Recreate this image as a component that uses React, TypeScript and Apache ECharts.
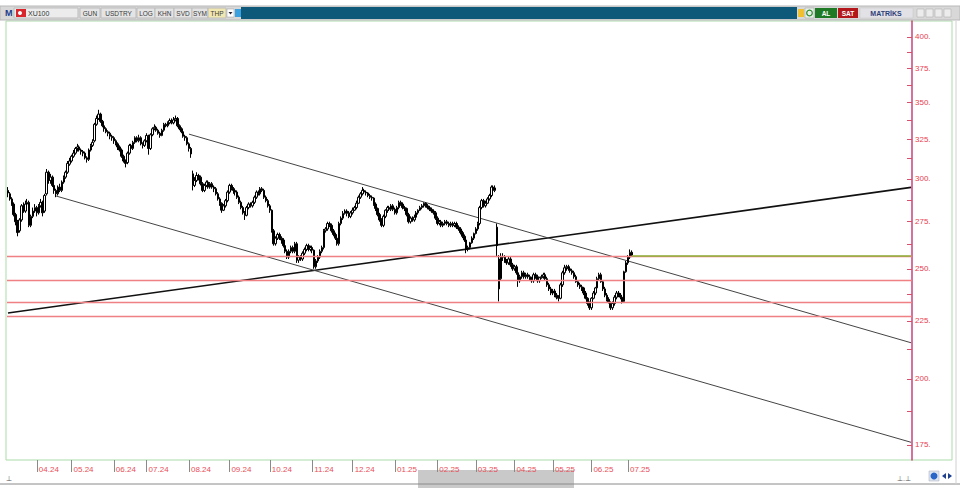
import React, { useEffect, useRef } from "react";
import * as echarts from "echarts";

// ---- data ----
const START_DATE = "2024-03-11";
const HOLIDAYS = [
  "2024-04-10", "2024-04-11", "2024-04-12", "2024-04-23", "2024-05-01",
  "2024-06-17", "2024-06-18", "2024-06-19", "2024-07-15", "2024-08-30",
  "2024-10-29", "2025-01-01", "2025-03-31", "2025-04-01", "2025-04-23",
  "2025-05-01", "2025-05-19", "2025-06-06", "2025-06-09",
];
const TOTAL_SLOTS = 470; // trading days incl. empty future space

// [open, close, low, high]
const ohlc: number[][] = [
  [293, 291.5, 289, 295], [291, 288, 287, 292], [288, 285, 284, 289], [285, 279, 278, 286], [279, 275, 273, 280],
  [275, 269, 267, 276], [270, 276, 269, 277], [276, 284, 275, 285], [284, 281, 280, 286], [281, 285, 280, 287],
  [285, 286, 283, 288], [286, 273, 272, 287], [273, 278, 272, 279], [278, 281, 277, 283], [281, 283, 280, 285],
  [283, 280, 278, 284], [280, 284, 279, 285], [284, 286, 283, 288], [286, 280, 278, 287], [281, 290, 280, 291],
  [291, 304, 290, 306], [304, 299, 297, 305], [299, 301, 297, 303], [301, 296, 295, 302], [296, 293, 291, 297],
  [293, 291, 289, 294], [291, 295, 290, 296], [295, 293, 292, 297], [293, 298, 292, 299], [298, 301, 297, 302],
  [301, 304, 300, 305], [304, 309.5, 303, 311], [309, 311, 308, 313], [311, 314, 310, 315], [314, 316, 313, 318],
  [316, 319, 315, 320], [319, 320, 317, 322], [320, 318, 317, 321], [318, 317, 315, 319], [317, 316, 314, 318],
  [316, 313, 312, 317], [313, 312, 310, 314], [312, 318, 311, 319], [318, 321, 317, 322], [321, 323, 320, 325],
  [324, 335, 323, 336], [335, 339, 334, 341], [339, 342, 338, 345], [342, 337, 336, 343], [337, 334, 333, 338],
  [334, 332, 330, 335], [332, 330, 329, 333], [330, 329, 327, 331], [329, 327, 325, 330], [327, 326, 324, 328],
  [326, 324, 322, 327], [324, 322, 321, 325], [322, 320, 318, 323], [320, 318, 317, 321], [318, 314, 313, 319],
  [314, 311, 310, 315], [311, 309.5, 307, 312], [310, 316, 309, 317], [316, 321, 315, 322], [321, 319, 318, 322],
  [319, 323, 318, 324], [323, 326, 322, 327], [326, 324, 323, 327], [324, 326, 323, 328], [326, 322, 321, 327],
  [322, 321, 319, 323], [321, 324, 320, 325], [324, 327.5, 323, 329], [327, 319, 315, 328], [319, 328, 318, 329],
  [328, 332, 327, 333], [332, 333, 331, 335], [333, 331, 330, 334], [331, 329, 328, 332], [329, 327.5, 326, 330],
  [327.5, 331, 327, 332], [331, 335, 330, 336], [335, 334, 333, 336], [334, 336, 333, 337], [336, 337.6, 335, 339],
  [337.6, 336, 335, 339], [336, 338, 335, 340], [338, 339, 337, 341], [339, 334, 333, 340], [334, 332, 331, 335],
  [332, 330, 329, 333], [330, 327, 326, 331], [327, 326, 324, 328], [326, 322, 321, 327], [322, 319, 317, 323],
  [319, 315.5, 313, 320], [303, 296, 293, 305], [296, 299, 295, 301], [299, 302, 298, 304], [302, 301, 299, 303],
  [301, 297, 296, 302], [297, 293, 292, 298], [293, 296, 292, 297], [296, 298, 295, 299], [298, 295, 294, 299],
  [295, 297, 294, 298], [297, 295, 294, 298], [295, 294, 292, 296], [294, 291, 290, 295], [291, 288, 287, 292],
  [288, 285.5, 284, 289], [285.5, 281.5, 280, 286], [281.5, 284, 281, 285], [284, 287, 283, 288], [287, 292, 286, 293],
  [292, 296, 291, 297], [296, 294, 293, 297], [294, 293, 291, 295], [293, 292, 290, 294], [292, 289, 288, 293],
  [289, 286, 285, 290], [286, 283, 282, 287], [283, 280, 279, 284], [280, 278.6, 276, 281], [278.6, 283, 278, 284],
  [283, 285, 282, 286], [285, 284, 283, 286], [284, 286, 283, 287], [286, 289, 285, 290], [289, 292, 288, 293],
  [292, 291, 290, 293], [291, 294, 290, 295], [294, 293, 292, 295], [293, 289, 288, 294], [289, 287, 286, 290],
  [287, 284, 283, 288], [284, 281.5, 280, 285], [281.5, 270, 269, 282], [270, 263, 262, 271], [263, 266, 262, 267],
  [266, 268, 265, 269], [268, 266, 265, 269], [266, 265, 263, 267], [265, 262, 261, 266], [262, 259, 258, 263],
  [259, 256, 255, 260], [256, 259, 255, 260], [259, 261, 258, 262], [261, 259, 258, 262], [259, 263, 258, 264],
  [263, 254.4, 253, 264], [254.4, 256, 253, 257], [256, 255, 254, 257], [255, 258, 254, 259], [258, 260, 257, 261],
  [260, 262, 259, 263], [262, 260, 259, 263], [260, 261, 259, 262], [261, 259.6, 258, 262], [259.6, 251, 250, 260],
  [251, 254, 250, 255], [254, 256, 253, 257], [256, 259, 255, 260], [259, 261, 258, 262], [261, 270, 260, 271],
  [270, 271, 269, 272], [271, 274, 270, 275], [274, 273, 272, 275], [273, 270, 269, 274], [270, 268, 267, 271],
  [268, 266, 265, 269], [266, 263, 262, 267], [263, 274, 262, 275], [274, 277, 273, 278], [277, 279.7, 276, 281],
  [279.7, 281, 279, 282], [281, 279.7, 278, 282], [279.7, 278, 277, 281], [278, 280, 277, 281], [280, 281.5, 279, 283],
  [281.5, 283, 281, 284], [283, 285.5, 282, 287], [285.5, 289, 285, 290], [289, 291, 288, 292], [291, 293, 290, 295],
  [293, 292, 291, 294], [292, 291.5, 290, 293], [291.5, 290, 289, 292], [290, 289, 288, 291], [289, 288.5, 287, 290],
  [288.5, 285, 284, 289], [285, 282.5, 281, 286], [282.5, 279, 278, 283], [279, 276, 275, 280], [276, 273, 272, 277],
  [273, 278, 272, 279], [278, 281.5, 277, 282], [281.5, 283, 280, 284], [283, 282, 281, 284], [282, 284, 281, 285],
  [284, 282, 281, 285], [282, 280, 279, 283], [280, 283, 279, 284], [283, 286, 282, 287], [286, 285, 284, 287],
  [285, 283, 282, 286], [283, 282.5, 281, 284], [282.5, 279, 278, 283], [279, 275, 274, 280], [275, 277, 274, 278],
  [277, 276, 275, 278], [276, 277.5, 275, 279], [277.5, 280, 277, 281], [280, 281.5, 279, 282], [281.5, 283, 281, 284],
  [283, 284, 282, 285], [284, 285.5, 283, 286], [285.5, 284, 283, 286], [284, 283, 282, 285], [283, 282, 281, 284],
  [282, 281, 280, 283], [281, 280, 279, 282], [280, 277, 276, 281], [277, 274, 273, 278], [274, 275, 273, 276],
  [275, 273, 272, 276], [273, 274, 272, 275], [274, 275, 273, 276], [275, 274, 273, 276], [274, 273, 272, 275],
  [273, 274, 272, 275], [274, 273, 272, 275], [273, 274, 272, 275], [274, 272, 271, 275], [272, 271, 270, 273],
  [271, 269, 268, 272], [269, 267, 266, 270], [267, 265, 264, 268], [265, 260, 258, 266], [260, 261, 259, 262],
  [261, 263.5, 260, 264], [263.5, 266, 263, 267], [266, 268.5, 265, 269], [268.5, 271, 268, 272], [271, 274, 270, 275],
  [274, 283, 273, 284], [283, 287, 282, 288], [287, 284, 283, 288], [284, 285.5, 283, 287], [285.5, 288, 285, 289],
  [288, 290, 287, 291], [290, 295, 289, 296], [295, 293, 292, 296], [293, 294.5, 292, 296], [272, 262, 256, 274],
  [255, 240, 234, 257], [245, 256, 244, 258], [256, 256, 254, 258], [256, 254, 253, 257], [254, 253, 252, 255],
  [253, 255, 252, 256], [255, 252, 251, 256], [252, 250, 249, 253], [250, 251, 249, 252], [251, 248, 247, 252],
  [248, 244, 241, 249], [244, 246, 243, 247], [246, 248, 245, 249], [248, 246, 245, 249], [246, 247, 245, 248],
  [247, 246, 245, 248], [246, 245.5, 244, 247], [245.5, 244, 243, 246], [244, 247, 243, 248], [247, 246, 245, 248],
  [246, 244, 243, 247], [244, 245.5, 243, 246], [245.5, 246, 245, 247], [246, 247, 245, 248], [247, 245, 244, 248],
  [245, 242, 241, 246], [242, 240, 239, 243], [240, 238, 237, 241], [238, 239, 237, 240], [239, 237, 236, 240],
  [237, 236, 235, 238], [236, 235.5, 234, 237], [235.5, 242, 235, 243], [242, 248, 241, 249], [248, 250.5, 247, 252],
  [250.5, 251, 249, 252], [251, 250, 249, 252], [250, 249, 248, 251], [249, 248, 247, 250], [248, 246, 245, 249],
  [246, 243.5, 243, 247], [243.5, 242, 241, 244], [242, 241, 240, 243], [241, 240.5, 239, 242], [240.5, 238, 237, 241],
  [238, 235.5, 235, 239], [235.5, 233, 232, 236], [233, 231, 230, 234], [231, 235.5, 230, 236], [235.5, 238, 235, 239],
  [238, 240.5, 237, 241], [240.5, 245, 240, 246], [245, 247, 244, 248], [247, 243.5, 243, 248], [243.5, 240, 239, 244],
  [240, 237, 236, 241], [237, 235, 234, 238], [235, 233.5, 233, 236], [233.5, 231, 230, 234], [231, 233, 230, 234],
  [233, 236, 232, 237], [236, 238, 235, 239], [238, 237, 236, 239], [237, 236, 235, 238], [236, 233.5, 233, 237],
  [234, 248.5, 233.5, 249], [248.5, 253, 248, 254], [253, 256, 252, 257], [256, 258.5, 255, 260], [258.5, 257, 256, 259.5],
];

const yTickLabels = [175, 200, 225, 250, 275, 300, 325, 350, 375, 400];
const yMinorTicks = [187.5, 212.5, 237.5, 262.5, 287.5, 312.5, 337.5, 362.5, 387.5];
const redLevels = [256.5, 244.5, 233.5, 227];
const greenLevel = [[324, 256.5], [469, 256.5]];
const trendBold = [[0, 228.6], [469, 294.8]];
const channelUpper = [[94, 328.4], [469, 215.2]];
const channelLower = [[25, 289.7], [469, 175.9]];

function buildDates(n: number): string[] {
  const out: string[] = [];
  const d = new Date(START_DATE + "T00:00:00Z");
  while (out.length < n) {
    const dow = d.getUTCDay();
    const iso = d.toISOString().slice(0, 10);
    if (dow !== 0 && dow !== 6 && !HOLIDAYS.includes(iso)) out.push(iso);
    d.setUTCDate(d.getUTCDate() + 1);
  }
  return out;
}

const dates = buildDates(TOTAL_SLOTS);
const isMonthStart = (i: number) =>
  i > 0 && i < ohlc.length && dates[i].slice(0, 7) !== dates[i - 1].slice(0, 7);
const fmtMonth = (v: string) => `${v.slice(5, 7)}.${v.slice(2, 4)}`;

const FONT = "Liberation Sans";

function toolbarGraphics(): any[] {
  const els: any[] = [];
  els.push({ type: "rect", shape: { x: 0, y: 6, width: 960, height: 14 }, style: { fill: "#d8d8d8", stroke: "#b8b8b8", lineWidth: 1 } });
  els.push({ type: "text", x: 5, y: 13, style: { text: "M", fill: "#1b3c8c", font: `bold 9px ${FONT}`, verticalAlign: "middle" } });
  els.push({ type: "rect", shape: { x: 14, y: 8, width: 64, height: 10 }, style: { fill: "#ececec", stroke: "#bdbdbd", lineWidth: 1 } });
  els.push({ type: "rect", shape: { x: 16, y: 9, width: 10, height: 8 }, style: { fill: "#d9262c" } });
  els.push({ type: "circle", shape: { cx: 20, cy: 13, r: 2 }, style: { fill: "#ffffff" } });
  els.push({ type: "text", x: 28, y: 13, style: { text: "XU100", fill: "#333", font: `7px ${FONT}`, verticalAlign: "middle" } });
  const btns = [
    { t: "GUN", x: 80, w: 20 }, { t: "USDTRY", x: 101, w: 35 }, { t: "LOG", x: 137, w: 18 },
    { t: "KHN", x: 155, w: 19 }, { t: "SVD", x: 174, w: 18 }, { t: "SYM", x: 192, w: 16 },
    { t: "THP", x: 208, w: 18, bg: "#f1e7b0" },
  ];
  btns.forEach((b) => {
    els.push({ type: "rect", shape: { x: b.x, y: 8, width: b.w, height: 10 }, style: { fill: b.bg || "#e4e4e4", stroke: "#bcbcbc", lineWidth: 1 } });
    els.push({ type: "text", x: b.x + b.w / 2, y: 13, style: { text: b.t, fill: "#3a3a3a", font: `6.5px ${FONT}`, align: "center", verticalAlign: "middle" } });
  });
  els.push({ type: "rect", shape: { x: 227, y: 9, width: 7, height: 8 }, style: { fill: "#fff", stroke: "#999", lineWidth: 0.5 } });
  els.push({ type: "polygon", shape: { points: [[228.5, 12], [232.5, 12], [230.5, 14.5]] }, style: { fill: "#223" } });
  els.push({ type: "rect", shape: { x: 235, y: 9, width: 6, height: 8 }, style: { fill: "#3aa0e0" } });
  els.push({ type: "rect", shape: { x: 241, y: 7, width: 556, height: 12 }, style: { fill: "#0e5879" } });
  els.push({ type: "rect", shape: { x: 798, y: 9, width: 6, height: 8 }, style: { fill: "#f0c030" } });
  els.push({ type: "rect", shape: { x: 805, y: 8, width: 9, height: 10 }, style: { fill: "#e8f0e8", stroke: "#999", lineWidth: 0.5 } });
  els.push({ type: "circle", shape: { cx: 809.5, cy: 13, r: 2.8 }, style: { fill: "none", stroke: "#2a8a2a", lineWidth: 1.2 } });
  els.push({ type: "rect", shape: { x: 815, y: 8, width: 22, height: 10 }, style: { fill: "#1f7a26" } });
  els.push({ type: "text", x: 826, y: 13, style: { text: "AL", fill: "#fff", font: `bold 6.5px ${FONT}`, align: "center", verticalAlign: "middle" } });
  els.push({ type: "rect", shape: { x: 838, y: 8, width: 20, height: 10 }, style: { fill: "#b3161b" } });
  els.push({ type: "text", x: 848, y: 13, style: { text: "SAT", fill: "#fff", font: `bold 6.5px ${FONT}`, align: "center", verticalAlign: "middle" } });
  els.push({ type: "rect", shape: { x: 860, y: 8, width: 53, height: 10 }, style: { fill: "#e2e2e6", stroke: "#c4c4c4", lineWidth: 0.5 } });
  els.push({ type: "text", x: 886, y: 13, style: { text: "MATRİKS", fill: "#2d3e78", font: `bold 7px ${FONT}`, align: "center", verticalAlign: "middle" } });
  [917, 926, 935, 944].forEach((x) => {
    els.push({ type: "rect", shape: { x, y: 9, width: 7, height: 8 }, style: { fill: "#ececec", stroke: "#aaa", lineWidth: 0.5 } });
  });
  return els;
}

function frameGraphics(): any[] {
  return [
    { type: "rect", z: -10, shape: { x: 418, y: 470, width: 156, height: 18 }, style: { fill: "#c9c9c9" } },
    { type: "line", shape: { x1: 0, y1: 484, x2: 960, y2: 484 }, style: { stroke: "#8a8a8a", lineWidth: 1 } },
    { type: "rect", shape: { x: 6, y: 21, width: 946, height: 439 }, style: { fill: "none", stroke: "#a9dca9", lineWidth: 1 } },
    { type: "line", shape: { x1: 956, y1: 21, x2: 956, y2: 484 }, style: { stroke: "#d0d0d0", lineWidth: 1 } },
    { type: "text", x: 6, y: 478, style: { text: "⊥", fill: "#555", font: `7px ${FONT}`, verticalAlign: "middle" } },
    { type: "text", x: 897, y: 478, style: { text: "⊥.⊥", fill: "#555", font: `7px ${FONT}`, verticalAlign: "middle" } },
    { type: "rect", shape: { x: 929, y: 471, width: 10, height: 10 }, style: { fill: "#dde6f0", stroke: "#aab", lineWidth: 0.5 } },
    { type: "circle", shape: { cx: 934, cy: 476, r: 3.5 }, style: { fill: "#2a66c8" } },
    { type: "polygon", shape: { points: [[946, 473], [946, 479], [942, 476]] }, style: { fill: "#1f3f8f" } },
    { type: "polygon", shape: { points: [[948, 473], [948, 479], [952, 476]] }, style: { fill: "#1f3f8f" } },
  ];
}

export default function App() {
  const ref = useRef<HTMLDivElement>(null);
  useEffect(() => {
    if (!ref.current) return;
    const chart = echarts.init(ref.current, null, { renderer: "svg" });
    const lineSeries = (data: number[][], color: string, width: number, z = 3) => ({
      type: "line",
      data,
      symbol: "none",
      silent: true,
      lineStyle: { color, width },
      z,
    });
    chart.setOption({
      animation: false,
      backgroundColor: "#ffffff",
      grid: { left: 7, right: 48, top: 21, bottom: 28, containLabel: false },
      xAxis: {
        type: "category",
        data: dates,
        boundaryGap: true,
        axisLine: { show: false },
        axisTick: {
          show: true,
          alignWithLabel: true,
          interval: (i: number) => isMonthStart(i),
          length: 12,
          lineStyle: { color: "#8a8a8a", width: 1 },
        },
        axisLabel: {
          interval: (i: number) => isMonthStart(i),
          formatter: (v: string) => fmtMonth(v),
          color: "#e8505a",
          fontSize: 8,
          fontFamily: FONT,
          align: "left",
          padding: [0, 0, 0, 2],
          margin: 5,
        },
        splitLine: { show: false },
      },
      yAxis: {
        type: "log",
        logBase: 10,
        position: "right",
        min: 169.7,
        max: 413,
        axisLine: { show: true, lineStyle: { color: "#c8427a", width: 1.5 } },
        axisTick: {
          show: true,
          inside: true,
          length: 5,
          customValues: [...yTickLabels, ...yMinorTicks],
          lineStyle: { color: "#d9506f", width: 1 },
        },
        axisLabel: {
          customValues: yTickLabels,
          formatter: (v: number) => `${v}.`,
          color: "#e8404f",
          fontSize: 8,
          fontFamily: FONT,
          margin: 3,
        },
        splitLine: { show: false },
        minorTick: { show: false },
      },
      series: [
        {
          type: "candlestick",
          data: ohlc,
          barWidth: 2,
          z: 4,
          itemStyle: {
            color: "#ffffff",
            color0: "#000000",
            borderColor: "#000000",
            borderColor0: "#000000",
            borderWidth: 1,
          },
          markLine: {
            silent: true,
            symbol: "none",
            label: { show: false },
            lineStyle: { color: "#ef8084", width: 1.3, type: "solid" },
            data: redLevels.map((v) => ({ yAxis: v })),
          },
        },
        lineSeries(greenLevel, "#8db33a", 1.5, 8),
        lineSeries(trendBold, "#111111", 1.6),
        lineSeries(channelUpper, "#444444", 1),
        lineSeries(channelLower, "#444444", 1),
      ],
      graphic: [...frameGraphics(), ...toolbarGraphics()],
    });
    return () => chart.dispose();
  }, []);
  return (
    <div
      ref={ref}
      style={{ position: "fixed", left: 0, top: 0, width: 960, height: 488, background: "#fff" }}
    />
  );
}
